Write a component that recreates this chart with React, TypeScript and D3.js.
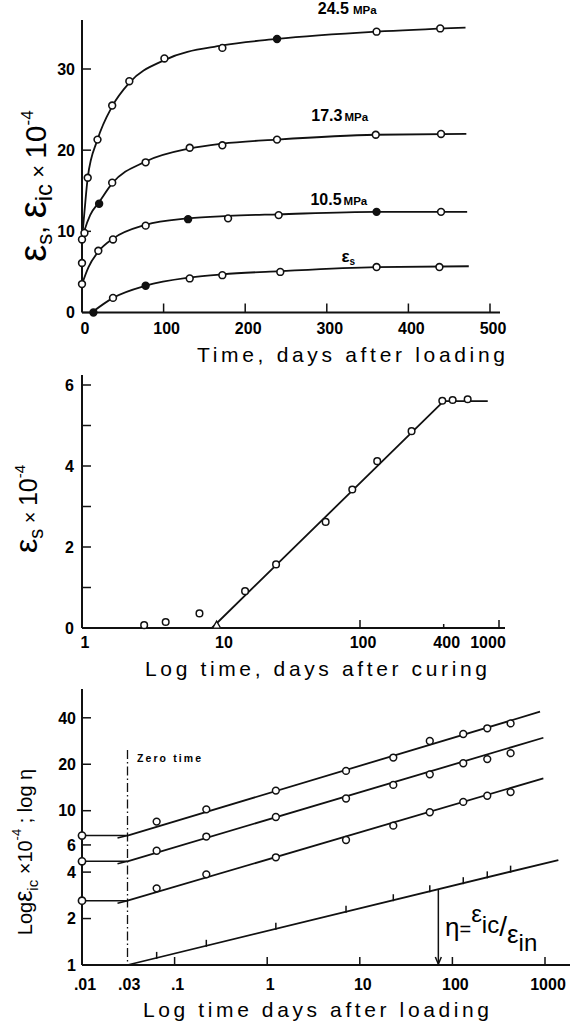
import React from 'react';
import * as d3 from 'd3';

// ---------- Top panel: strain vs time ----------
const topXTicks = [0, 100, 200, 300, 400, 500];
const topYTicks = [0, 10, 20, 30];
// markers: [days, strain x1e-4, filled]
const mk245 = [[0, 9.0, 0], [7, 16.6, 0], [19, 21.3, 0], [37, 25.5, 0], [58, 28.5, 0], [101, 31.3, 0], [172, 32.6, 0], [239, 33.7, 1], [361, 34.6, 0], [439, 35.0, 0]];
const mk173 = [[0, 6.1, 0], [3, 9.8, 0], [21, 13.4, 1], [37, 16.0, 0], [78, 18.5, 0], [132, 20.3, 0], [172, 20.6, 0], [239, 21.3, 0], [360, 21.9, 0], [440, 22.0, 0]];
const mk105 = [[0, 3.5, 0], [20, 7.6, 0], [38, 9.0, 0], [78, 10.7, 0], [130, 11.5, 1], [179, 11.6, 0], [241, 12.0, 0], [361, 12.4, 1], [440, 12.4, 0]];
const mkShr = [[14, 0.0, 1], [38, 1.8, 0], [78, 3.3, 1], [132, 4.2, 0], [172, 4.6, 0], [243, 5.0, 0], [361, 5.6, 0], [438, 5.6, 0]];
const cv245 = [[0, 9.0], [3, 12.4], [7, 16.6], [19, 21.3], [37, 25.4], [58, 28.3], [101, 31.1], [172, 32.9], [239, 33.7], [361, 34.6], [470, 35.1]];
const cv173 = [[0, 9.0], [3, 10.1], [10, 12.0], [21, 13.6], [37, 15.9], [78, 18.6], [132, 20.2], [172, 20.8], [239, 21.3], [360, 21.9], [471, 22.0]];
const cv105 = [[0, 3.5], [8, 5.6], [20, 7.5], [38, 9.1], [78, 10.8], [130, 11.6], [179, 11.9], [241, 12.1], [361, 12.4], [472, 12.4]];
const cvShr = [[12, 0], [38, 1.8], [78, 3.3], [132, 4.3], [172, 4.7], [243, 5.1], [361, 5.6], [474, 5.7]];
const curveLabels = ['24.5', '17.3', '10.5'];
const curveLabelPos = [[289, 36.8], [281, 23.6], [280, 13.3]];

// ---------- Middle panel: shrinkage vs log time ----------
const midXTicks = [100, 400, 1000];
const midXLabels = [1, 10, 100, 400, 1000];
const midYTicks = [0, 1, 2, 3, 4, 5, 6];
const midYLabels = [0, 2, 4, 6];
const midPts = [[2.8, 0.07], [4.0, 0.15], [7.0, 0.36], [14.9, 0.91], [24.9, 1.57], [56.6, 2.62], [88, 3.42], [133, 4.12], [235, 4.86], [391, 5.61], [464, 5.63], [595, 5.65]];
const midTri = [[9.3, 0.07]];
const midLine = [[8.6, 0], [400, 5.6], [830, 5.6]];

// ---------- Bottom panel: log creep strain vs log time ----------
const botXTicks = [0.1, 1, 10, 100, 1000];
const botXLabels = [[0.01, '.01'], [0.03, '.03'], [0.1, '.1'], [1, '1'], [10, '10'], [100, '100'], [1000, '1000']];
const botYTicks = [1, 2, 4, 6, 10, 20, 40];
const zeroTime = 0.031;
const botTimes = [0.064, 0.22, 1.24, 7.1, 23, 57, 131, 238, 425];
const botA = [8.5, 10.2, 13.5, 18.1, 22.1, 28.3, 31.4, 34.2, 36.8];
const botB = [5.5, 6.8, 9.1, 12.0, 14.7, 17.2, 20.3, 21.6, 23.6];
const botC = [3.14, 3.87, 4.99, 6.46, 8.0, 9.77, 11.4, 12.5, 13.2];
const initA = 6.9, initB = 4.7, initC = 2.61;
const lineA = [[zeroTime, initA], [884, 43.8]];
const lineB = [[zeroTime, initB], [960, 29.7]];
const lineC = [[zeroTime, initC], [960, 16.2]];
const lineEta = [[zeroTime, 1.0], [1393, 4.79]];
const etaArrowT = 70.5;

const TICKF = "'Liberation Sans', Arial, sans-serif";
const TITLEF = "'Liberation Sans', Arial, sans-serif";

export default function App() {
  // scales
  const xT = d3.scaleLinear().domain([0, 500]).range([82, 490]);
  const yT = d3.scaleLinear().domain([0, 30]).range([312.5, 69]);
  const xM = d3.scaleLog().domain([1, 1000]).range([82, 499]);
  const yM = d3.scaleLinear().domain([0, 6]).range([628, 385]);
  const xB = d3.scaleLog().domain([0.01, 1000]).range([82, 545]);
  const yB = d3.scaleLog().domain([1, 40]).range([965, 717.8]);

  const lineT = d3.line<number[]>().x(d => xT(d[0])).y(d => yT(d[1])).curve(d3.curveMonotoneX);
  const lineM = d3.line<number[]>().x(d => xM(d[0])).y(d => yM(d[1]));
  const lineBt = d3.line<number[]>().x(d => xB(d[0])).y(d => yB(d[1]));

  const etaAt = (t: number) => {
    const [p0, p1] = lineEta;
    const f = (Math.log10(t) - Math.log10(p0[0])) / (Math.log10(p1[0]) - Math.log10(p0[0]));
    return Math.pow(10, Math.log10(p0[1]) + f * (Math.log10(p1[1]) - Math.log10(p0[1])));
  };

  const stroke = '#111';
  const markers = (arr: number[][]) => arr.map((d, i) => (
    <circle key={i} cx={xT(d[0])} cy={yT(d[1])} r={3.4} fill={d[2] ? stroke : '#fff'} stroke={stroke} strokeWidth={1.6} />
  ));

  return (
    <svg width={570} height={1029} style={{ position: 'absolute', left: 0, top: 0, background: '#fff' }}>
      <rect width={570} height={1029} fill="#fff" />
      {/* ================= TOP ================= */}
      <g>
        <line x1={xT(0)} x2={xT(0)} y1={yT(0)} y2={20} stroke={stroke} strokeWidth={2} />
        <line x1={xT(0)} x2={500} y1={yT(0)} y2={yT(0)} stroke={stroke} strokeWidth={2} />
        {topYTicks.map(v => (
          <g key={v}>
            <line x1={xT(0)} x2={xT(0) + 9} y1={yT(v)} y2={yT(v)} stroke={stroke} strokeWidth={1.5} />
            <text x={75} y={yT(v)} dy="0.36em" textAnchor="end" fontFamily={TICKF} fontWeight="bold" fontSize={16}>{v}</text>
          </g>
        ))}
        {topXTicks.map(v => (
          <g key={v}>
            {v > 0 && <line x1={xT(v)} x2={xT(v)} y1={yT(0)} y2={yT(0) - 9} stroke={stroke} strokeWidth={1.5} />}
            <text x={xT(v) + 3} y={334} textAnchor="middle" fontFamily={TICKF} fontWeight="bold" fontSize={16}>{v}</text>
          </g>
        ))}
        {[cv245, cv173, cv105, cvShr].map((c, i) => (
          <path key={i} d={lineT(c) || ''} fill="none" stroke={stroke} strokeWidth={1.8} />
        ))}
        {markers(mk245)}
        {markers(mk173)}
        {markers(mk105)}
        {markers(mkShr)}
        {curveLabels.map((s, i) => (
          <text key={s} x={xT(curveLabelPos[i][0])} y={yT(curveLabelPos[i][1])} fontFamily={TICKF} fontWeight="bold" fontSize={16}>
            {s}<tspan fontSize={11.5} dx={i === 0 ? 4 : 2}>MPa</tspan>
          </text>
        ))}
        <text x={xT(318)} y={yT(6.2)} fontFamily={TICKF} fontWeight="bold" fontSize={17}>ε<tspan fontSize={10} dy={3}>s</tspan></text>
        <text x={351} y={362} fontFamily={TITLEF} fontSize={21} textAnchor="middle" textLength={308} lengthAdjust="spacing">Time, days after loading</text>
        <text transform="translate(46,186) rotate(-90)" fontFamily={TITLEF} textAnchor="middle" fontSize={28}>
          <tspan fontSize={38}>ε</tspan><tspan fontSize={22} dy={6}>s</tspan><tspan dy={-6}>, </tspan><tspan fontSize={38}>ε</tspan><tspan fontSize={24} dy={6}>ic</tspan><tspan fontSize={22} dy={-6}> × </tspan><tspan fontSize={30}>10</tspan><tspan fontSize={17} dy={-13}>-4</tspan>
        </text>
      </g>

      {/* ================= MIDDLE ================= */}
      <g>
        <line x1={xM(1)} x2={xM(1)} y1={yM(0)} y2={375} stroke={stroke} strokeWidth={2} />
        <line x1={xM(1)} x2={505} y1={yM(0)} y2={yM(0)} stroke={stroke} strokeWidth={2} />
        {midYTicks.map(v => (
          <line key={v} x1={xM(1)} x2={xM(1) + 9} y1={yM(v)} y2={yM(v)} stroke={stroke} strokeWidth={1.5} />
        ))}
        {midYLabels.map(v => (
          <text key={v} x={74} y={yM(v)} dy="0.36em" textAnchor="end" fontFamily={TICKF} fontWeight="bold" fontSize={16}>{v}</text>
        ))}
        {midXTicks.map(v => (
          <line key={v} x1={xM(v)} x2={xM(v)} y1={yM(0)} y2={yM(0) - (v === 400 ? 4 : 8)} stroke={stroke} strokeWidth={1.5} />
        ))}
        {midXLabels.map(v => (
          <text key={v} x={v === 1000 ? xM(v) - 11 : xM(v) + 3} y={648} textAnchor="middle" fontFamily={TICKF} fontWeight="bold" fontSize={16}>{v}</text>
        ))}
        <path d={lineM(midLine) || ''} fill="none" stroke={stroke} strokeWidth={1.8} />
        {midPts.map((d, i) => (
          <circle key={i} cx={xM(d[0])} cy={yM(d[1])} r={3.3} fill="#fff" stroke={stroke} strokeWidth={1.5} />
        ))}
        {midTri.map((d, i) => {
          const cx = xM(d[0]), cy = yM(d[1]);
          return <path key={i} d={`M${cx - 4},${cy + 3}L${cx},${cy - 4}L${cx + 4},${cy + 3}Z`} fill="#fff" stroke={stroke} strokeWidth={1.3} />;
        })}
        <text x={316} y={676} fontFamily={TITLEF} fontSize={21} textAnchor="middle" textLength={342} lengthAdjust="spacing">Log time, days after curing</text>
        <text transform="translate(37,509) rotate(-90)" fontFamily={TITLEF} textAnchor="middle" fontSize={24}>
          <tspan fontSize={32}>ε</tspan><tspan fontSize={20} dy={6}>s</tspan><tspan fontSize={20} dy={-6}> × </tspan><tspan fontSize={25}>10</tspan><tspan fontSize={15} dy={-12}>-4</tspan>
        </text>
      </g>

      {/* ================= BOTTOM ================= */}
      <g>
        <line x1={xB(0.01)} x2={xB(0.01)} y1={yB(1)} y2={689} stroke={stroke} strokeWidth={2} />
        <line x1={xB(0.01)} x2={570} y1={yB(1)} y2={yB(1)} stroke={stroke} strokeWidth={2} />
        {botYTicks.map(v => (
          <g key={v}>
            <line x1={xB(0.01)} x2={xB(0.01) + 9} y1={yB(v)} y2={yB(v)} stroke={stroke} strokeWidth={1.5} />
            <text x={76} y={yB(v)} dy="0.36em" textAnchor="end" fontFamily={TICKF} fontWeight="bold" fontSize={16}>{v}</text>
          </g>
        ))}
        {botXTicks.map(v => (
          <line key={v} x1={xB(v)} x2={xB(v)} y1={yB(1)} y2={yB(1) - 8} stroke={stroke} strokeWidth={1.5} />
        ))}
        {botXLabels.map(([v, s]) => (
          <text key={s as string} x={xB(v as number) + 3} y={990} textAnchor="middle" fontFamily={TICKF} fontWeight="bold" fontSize={16}>{s}</text>
        ))}
        {/* zero time dash-dot */}
        <line x1={xB(zeroTime)} x2={xB(zeroTime)} y1={750} y2={yB(1)} stroke={stroke} strokeWidth={1.3} strokeDasharray="9,3,1.5,3" />
        <text x={137} y={762} fontFamily={TICKF} fontWeight="bold" fontSize={10.5} textLength={64} lengthAdjust="spacing">Zero time</text>
        {/* initial horizontal segments with half arrows */}
        {[initA, initB, initC].map((v, i) => (
          <g key={i}>
            <line x1={xB(0.01)} x2={xB(zeroTime)} y1={yB(v)} y2={yB(v)} stroke={stroke} strokeWidth={1.6} />
            <path d={`M${xB(zeroTime) - 10},${yB(v) + 2.5}L${xB(zeroTime)},${yB(v)}`} stroke={stroke} strokeWidth={1.6} fill="none" />
            <circle cx={xB(0.01)} cy={yB(v)} r={3.6} fill="#fff" stroke={stroke} strokeWidth={1.6} />
          </g>
        ))}
        {[lineA, lineB, lineC, lineEta].map((l, i) => (
          <path key={i} d={lineBt(l) || ''} fill="none" stroke={stroke} strokeWidth={1.8} />
        ))}
        {[botA, botB, botC].map((arr, k) => arr.map((v, i) => (
          <circle key={`${k}-${i}`} cx={xB(botTimes[i])} cy={yB(v)} r={3.4} fill="#fff" stroke={stroke} strokeWidth={1.5} />
        )))}
        {botTimes.map((t, i) => (
          <line key={i} x1={xB(t)} x2={xB(t)} y1={yB(etaAt(t)) - 6} y2={yB(etaAt(t)) + 1} stroke={stroke} strokeWidth={1.5} />
        ))}
        {/* eta arrow */}
        <line x1={xB(etaArrowT)} x2={xB(etaArrowT)} y1={yB(etaAt(etaArrowT))} y2={yB(1) - 1} stroke={stroke} strokeWidth={1.5} />
        <path d={`M${xB(etaArrowT) - 3},${yB(1) - 8}L${xB(etaArrowT)},${yB(1) - 1}L${xB(etaArrowT) + 3},${yB(1) - 8}`} fill="none" stroke={stroke} strokeWidth={1.5} />
        <text x={445} y={936} fontFamily={TITLEF} fontSize={26}>
          η<tspan fontSize={20}>=</tspan><tspan fontSize={24} dy={-14}>ε</tspan><tspan fontSize={24} dy={11}>ic</tspan><tspan fontSize={28} dy={3}>/</tspan><tspan fontSize={26} dy={7}>ε</tspan><tspan fontSize={24} dy={8}>in</tspan>
        </text>
        <text x={316} y={1017} fontFamily={TITLEF} fontSize={21} textAnchor="middle" textLength={346} lengthAdjust="spacing">Log time days after loading</text>
        <text transform="translate(32,852) rotate(-90)" fontFamily={TITLEF} textAnchor="middle" fontSize={20}>
          Log<tspan fontSize={25}>ε</tspan><tspan fontSize={15} dy={6}>ic</tspan><tspan dy={-6}> ×10</tspan><tspan fontSize={13} dy={-11}>-4</tspan><tspan dy={11}> ; log η</tspan>
        </text>
      </g>
    </svg>
  );
}
